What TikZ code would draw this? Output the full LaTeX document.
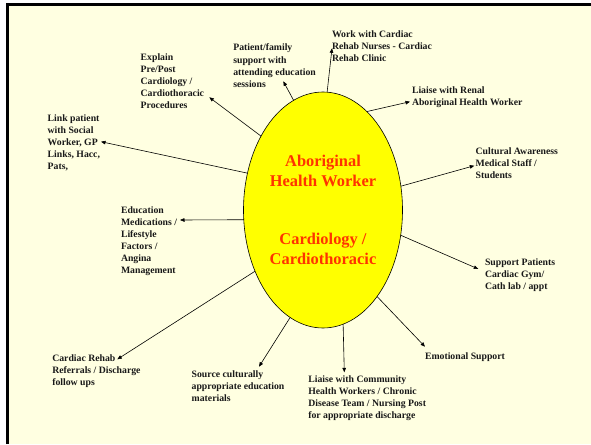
\documentclass[tikz,border=0pt]{standalone}
\usepackage{fontspec}
\setmainfont{Liberation Serif}
\usetikzlibrary{shapes.geometric,arrows.meta}
\definecolor{bgyellow}{RGB}{255,255,225}
\definecolor{titlered}{RGB}{255,51,0}
\definecolor{ellyellow}{RGB}{255,255,0}
\begin{document}
\begin{tikzpicture}[x=1pt,y=-1pt,
  lab/.style={anchor=north west, inner sep=0pt, outer sep=0pt, align=left,
    font=\fontsize{9.75}{12}\selectfont\bfseries, text=black!90},
  arr/.style={draw=black, line width=0.6pt, -{Triangle[length=4.5pt,width=3.6pt]}},
  title/.style={align=center, inner sep=0pt, text=titlered,
    font=\fontsize{16.4}{20}\selectfont\bfseries}]
\useasboundingbox (0,0) rectangle (591,444);
\fill[white] (0,0) rectangle (591,444);
\fill[bgyellow] (7.5,4.5) rectangle (591,444);
\draw[line width=3pt] (7.5,444) -- (7.5,4.5) -- (591,4.5);

\node[ellipse, draw=black, line width=0.6pt, fill=ellyellow, minimum width=159pt,
  minimum height=236pt, inner sep=0pt, outer sep=0pt] (ahw) at (323,210) {};
\node[title] (t1) at (323,171) {Aboriginal\\Health Worker};
\node[title] (t2) at (323,249) {Cardiology /\\Cardiothoracic};

\node[lab] (l1) at (140.7,51.6) {\strut Explain\\Pre/Post\\Cardiology /\\Cardiothoracic\\Procedures};
\node[lab] (l2) at (233.3,42.6) {\strut Patient/family\\support with\\attending education\\sessions};
\node[lab] (l3) at (47.7,112.6) {\strut Link patient\\with Social\\Worker, GP\\Links, Hacc,\\Pats,};
\node[lab] (l4) at (332,28.6) {\strut Work with Cardiac\\Rehab Nurses - Cardiac\\Rehab Clinic};
\node[lab] (l5) at (412,85.2) {\strut Liaise with Renal\\Aboriginal Health Worker};
\node[lab] (l6) at (475.7,145.6) {\strut Cultural Awareness\\Medical Staff /\\Students};
\node[lab] (l7) at (121,204.9) {\strut Education\\Medications /\\Lifestyle\\Factors /\\Angina\\Management};
\node[lab] (l8) at (52.3,352.6) {\strut Cardiac Rehab\\Referrals / Discharge\\follow ups};
\node[lab] (l9) at (191.7,368.6) {\strut Source culturally\\appropriate education\\materials};
\node[lab] (l10) at (485,256.6) {\strut Support Patients\\Cardiac Gym/\\Cath lab / appt};
\node[lab] (l11) at (425,350.6) {\strut Emotional Support};
\node[lab] (l12) at (308.3,373.9) {\strut Liaise with Community\\Health Workers / Chronic\\Disease Team / Nursing Post\\for appropriate discharge};

\coordinate (p1) at (209.3,97.3);
\coordinate (p2) at (283.3,81.3);
\coordinate (p3) at (101,141.7);
\coordinate (p4) at (332,48.3);
\coordinate (p5) at (410,101.7);
\coordinate (p6) at (474.3,165.7);
\coordinate (p7) at (180,220);
\coordinate (p8) at (117.3,359.3);
\coordinate (p9) at (259,366.7);
\coordinate (p10) at (478.3,269);
\coordinate (p11) at (425,346.7);
\coordinate (p12) at (344.3,372.3);

\draw[arr] (ahw.130) -- (p1);
\draw[arr] (ahw.105.7) -- (p2);
\draw[arr] (ahw.154.9) -- (p3);
\draw[arr] (ahw.88.2) -- (p4);
\draw[arr] (ahw.66.2) -- (p5);
\draw[arr] (ahw.17.8) -- (p6);
\draw[arr] (ahw.187.2) -- (p7);
\draw[arr] (ahw.222.2) -- (p8);
\draw[arr] (ahw.253.9) -- (p9);
\draw[arr] (ahw.342) -- (p10);
\draw[arr] (ahw.302.1) -- (p11);
\draw[arr] (ahw.280.6) -- (p12);
\end{tikzpicture}
\end{document}
